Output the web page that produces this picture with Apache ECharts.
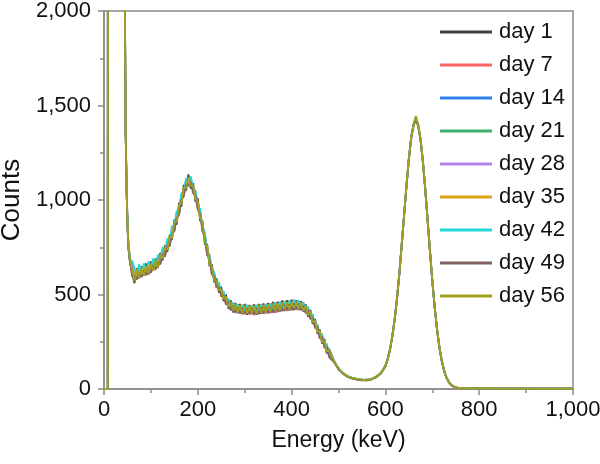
<!DOCTYPE html>
<html><head><meta charset="utf-8">
<script src="https://cdn.jsdelivr.net/npm/echarts@6/dist/echarts.min.js"></script>
<style>html,body{margin:0;padding:0;background:#fff}#c{width:600px;height:464px}</style>
</head><body><div id="c"></div>
<script>
// Energy axis (keV)
var energy = [0,8,9,42,44,46,48,50,52,55,58,
60,65,70,75,80,85,90,95,100,105,110,115,120,125,130,135,140,145,150,155,
160,165,170,175,180,185,190,195,200,205,210,215,220,225,230,235,240,245,250,255,
260,265,270,275,280,285,290,295,300,305,310,315,320,325,330,335,340,345,350,355,
360,365,370,375,380,385,390,395,400,405,410,415,420,425,430,435,440,445,450,455,
460,465,470,475,480,
490,500,510,520,530,540,550,560,570,580,590,600,
605,610,615,620,625,630,635,640,645,650,655,660,665,670,675,680,685,690,695,700,705,710,715,720,725,730,735,740,
750,760,780,800,850,900,950,1000];

var seriesNames = ['day 1','day 7','day 14','day 21','day 28','day 35','day 42','day 49','day 56'];

var day1 = [0,0,9000,9000,2280,1390,1070,870,750,680,640,
610,560,640,585,650,600,665,605,675,625,
690,640,720,680,760,725,815,790,895,870,
985,965,1080,1050,1135,1060,1090,990,1010,890,
890,765,765,650,660,565,585,510,540,465,
500,425,470,405,455,400,450,395,450,392,
445,395,448,392,450,398,452,400,455,402,
460,405,462,410,468,412,470,415,472,418,
470,418,465,410,448,382,418,345,370,292,
315,240,265,188,212,
152,104,85,63,59,50,50,46,54,62,85,118,
162,208,288,368,490,612,778,918,1083,1210,1336,1390,1432,1388,1325,1195,1062,888,736,568,440,312,228,148,102,60,40,20,
8,4,3,3,2,2,1,2];

var day7 = [0,0,9000,9000,2320,1420,1090,890,770,700,655,
670,630,580,645,590,655,600,670,615,680,
630,700,660,735,705,785,760,850,835,935,
925,1030,1020,1110,1075,1120,1035,1050,950,945,
835,822,708,710,605,615,535,558,488,515,
445,478,415,458,402,450,398,446,394,445,
392,442,390,445,394,448,396,450,398,454,
402,458,405,462,410,466,412,470,415,474,
418,470,415,460,400,435,368,396,320,342,
265,292,215,240,168,
144,112,79,69,55,54,46,50,50,66,80,126,
156,216,278,378,480,625,764,930,1070,1224,1322,1405,1418,1400,1312,1208,1050,900,724,580,430,324,218,156,96,64,36,24,
6,5,3,2,3,2,2,1];

var day14 = [0,0,9000,9000,2300,1400,1080,880,760,690,650,
655,590,625,635,595,640,625,650,630,670,
640,690,668,722,715,770,768,840,842,925,
930,1020,1028,1100,1095,1098,1055,1030,970,930,
850,805,725,690,620,600,550,545,500,500,
485,430,460,410,445,405,440,400,440,400,
438,398,440,400,442,402,444,404,446,408,
450,412,454,414,458,418,460,420,462,424,
465,422,460,412,442,388,412,350,364,298,
310,245,258,195,208,
150,106,84,64,58,51,49,47,53,63,83,120,
160,210,285,372,487,617,772,921,1079,1214,1332,1396,1440,1392,1322,1199,1059,891,733,571,437,316,225,150,100,61,39,21,
7,4,3,3,2,2,2,2];

var day21 = [0,0,9000,9000,2290,1395,1075,875,755,685,645,
625,620,595,605,640,598,650,615,655,632,
675,645,708,690,745,742,800,800,880,885,
972,980,1065,1060,1110,1080,1072,1008,985,908,
872,785,748,670,642,578,572,525,522,480,
478,442,450,420,436,412,432,410,428,410,
428,408,430,410,432,412,434,414,436,416,
440,420,444,424,446,426,450,428,452,432,
455,430,450,422,432,398,404,358,358,305,
300,255,250,202,198,
146,110,80,68,56,53,47,49,51,65,81,124,
158,214,281,375,483,621,768,926,1073,1220,1326,1402,1420,1396,1316,1205,1053,897,727,577,433,320,221,154,98,63,37,23,
7,4,3,3,2,2,2,2];

var day28 = [0,0,9000,9000,2310,1405,1085,885,765,695,652,
665,580,635,590,645,605,640,630,652,648,
640,680,682,728,718,770,772,838,842,925,
930,1022,1028,1098,1088,1105,1050,1035,962,935,
850,808,722,692,618,602,548,545,500,500,
460,462,428,444,415,436,410,434,405,432,
405,432,405,434,406,436,408,438,410,440,
414,446,416,448,420,452,424,456,428,458,
430,456,426,446,408,422,376,384,330,332,
276,280,226,228,178,
149,107,83,65,57,52,48,48,52,64,82,121,
159,212,283,373,485,619,770,924,1076,1217,1329,1399,1428,1394,1319,1202,1056,894,730,574,435,318,223,152,99,62,38,22,
7,4,3,3,2,2,2,2];

var day35 = [0,0,9000,9000,2295,1398,1078,878,758,688,648,
605,625,580,645,598,650,610,658,635,655,
682,655,702,698,742,740,805,800,880,885,
970,985,1062,1065,1112,1078,1075,1008,988,908,
872,785,748,668,645,580,572,525,522,480,
480,440,452,420,440,412,436,408,430,410,
432,406,432,408,430,410,432,412,438,414,
440,420,446,422,448,428,450,432,456,434,
456,432,452,420,436,396,406,356,360,300,
304,250,254,200,204,
147,109,81,67,56,53,48,48,52,64,83,123,
160,211,284,374,484,620,769,925,1075,1218,1328,1400,1424,1395,1318,1203,1055,895,729,575,434,319,222,153,98,62,38,22,
7,4,3,3,2,2,2,2];

var day42 = [0,0,9000,9000,2330,1425,1095,895,775,705,662,
680,640,600,660,605,665,630,675,645,690,
655,710,690,750,735,795,785,860,865,940,
950,1035,1045,1115,1100,1125,1060,1052,970,952,
860,830,732,712,628,620,552,565,505,518,
462,478,436,458,422,448,418,444,414,444,
412,442,410,444,412,446,414,448,416,452,
420,456,424,460,428,464,432,468,436,472,
438,468,434,458,418,434,388,395,342,340,
286,288,236,238,188,
152,110,84,67,58,53,49,49,53,65,84,124,
162,215,286,376,488,622,774,928,1080,1222,1334,1404,1432,1398,1322,1206,1060,898,733,577,438,321,225,154,100,63,39,22,
7,4,3,3,2,2,2,2];

var day49 = [0,0,9000,9000,2270,1385,1065,865,745,675,635,
595,600,580,615,595,625,605,635,615,655,
635,672,660,715,700,760,755,820,835,905,
920,1002,1020,1085,1075,1095,1038,1025,950,925,
835,800,710,688,605,598,538,542,490,498,
448,462,418,440,405,432,400,430,398,428,
398,428,396,430,398,432,400,434,404,436,
406,440,410,442,414,446,418,448,420,452,
424,450,420,440,402,418,372,380,326,330,
270,276,220,224,172,
144,105,80,64,55,50,46,46,50,62,80,120,
157,210,281,371,483,617,768,922,1074,1215,1327,1397,1422,1392,1317,1200,1054,892,728,572,433,316,221,150,97,61,37,21,
6,4,3,3,2,2,2,2];

var day56 = [0,0,9000,9000,2300,1400,1080,880,760,690,650,
650,570,632,590,640,600,650,612,662,625,
680,642,710,690,750,735,805,800,880,888,
968,985,1062,1065,1120,1075,1078,1005,992,905,
876,778,752,665,646,575,575,520,528,475,
490,432,462,415,448,405,444,400,442,400,
440,398,442,400,444,402,446,404,448,408,
452,412,454,416,458,420,460,422,462,426,
462,425,458,415,440,390,410,352,362,300,
306,248,256,198,206,
148,108,82,66,57,52,48,48,52,64,82,122,
159,212,283,373,485,619,770,924,1076,1217,1329,1399,1445,1394,1319,1202,1056,894,730,574,435,318,223,152,99,62,38,22,
7,4,3,3,2,2,2,2];

var allCounts = [day1,day7,day14,day21,day28,day35,day42,day49,day56];
var colors = ['#404040','#ff6464','#2f7fef','#3fae6e','#b084ea','#dea414','#22d8d8','#806262','#a2a020'];

var xTicks = [0,200,400,600,800,1000];
var yTicks = [0,500,1000,1500,2000];

function fmt(v){ return String(v).replace(/\B(?=(\d{3})+(?!\d))/g, ','); }

var series = seriesNames.map(function(name, s){
  return {
    name: name, type: 'line', showSymbol: false, symbol: 'none',
    clip: true, animation: false,
    lineStyle: { color: colors[s], width: 1.8 },
    itemStyle: { color: colors[s] },
    data: energy.map(function(e, i){ return [e, allCounts[s][i]]; })
  };
});

var font = 'Liberation Sans, Arial, sans-serif';
var chart = echarts.init(document.getElementById('c'), null, {renderer:'canvas'});
chart.setOption({
  animation: false,
  backgroundColor: '#fff',
  grid: { left: 104, right: 27, top: 11, bottom: 75, containLabel: false, outerBoundsMode: 'none',
          show: true, borderColor: '#8a8a8a', borderWidth: 1.5, backgroundColor: 'transparent' },
  legend: {
    orient: 'vertical', left: 435, top: 16, itemWidth: 52, itemHeight: 3, itemGap: 11,
    icon: 'rect',
    textStyle: { fontFamily: font, fontSize: 22, color: '#111', lineHeight: 22, padding: [0,0,0,2] },
    data: seriesNames
  },
  xAxis: {
    type: 'value', min: xTicks[0], max: xTicks[xTicks.length-1], interval: 200,
    name: 'Energy (keV)', nameLocation: 'middle', nameGap: 40,
    nameTextStyle: { fontFamily: font, fontSize: 23, color: '#111' },
    axisLine: { show: true, lineStyle: { color: '#8a8a8a', width: 1.5 } },
    axisTick: { show: true, length: 6, lineStyle: { color: '#8a8a8a', width: 1.5 } },
    minorTick: { show: true, splitNumber: 2, length: 4, lineStyle: { color: '#8a8a8a', width: 1.5 } },
    splitLine: { show: false },
    axisLabel: { fontFamily: font, fontSize: 22, color: '#111', margin: 10, formatter: fmt }
  },
  yAxis: {
    type: 'value', min: yTicks[0], max: yTicks[yTicks.length-1], interval: 500,
    name: 'Counts', nameLocation: 'middle', nameGap: 74, nameRotate: 90,
    nameTextStyle: { fontFamily: font, fontSize: 26, color: '#111' },
    axisLine: { show: true, lineStyle: { color: '#8a8a8a', width: 1.5 } },
    axisTick: { show: true, length: 6, lineStyle: { color: '#8a8a8a', width: 1.5 } },
    minorTick: { show: true, splitNumber: 2, length: 4, lineStyle: { color: '#8a8a8a', width: 1.5 } },
    splitLine: { show: false },
    axisLabel: { fontFamily: font, fontSize: 22, color: '#111', margin: 13, formatter: fmt }
  },
  series: series
});
</script></body></html>
